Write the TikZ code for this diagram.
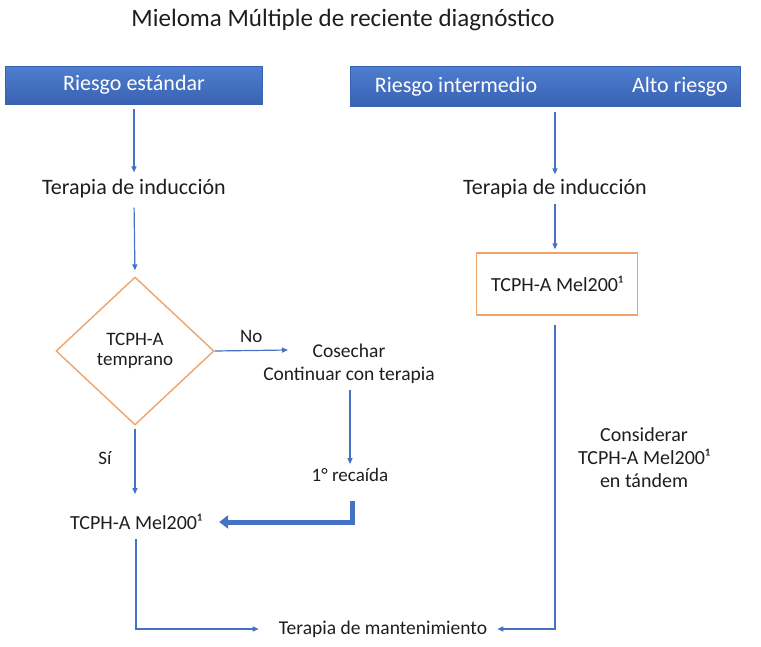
\documentclass[tikz,border=0pt]{standalone}
\usepackage{fontspec}
\setmainfont{Carlito}
\usetikzlibrary{arrows.meta,shapes.geometric}

\definecolor{flowblue}{RGB}{68,114,196}
\definecolor{hdrtop}{RGB}{78,126,208}
\definecolor{hdrbot}{RGB}{58,98,178}
\definecolor{flowor}{RGB}{238,164,106}
\definecolor{ink}{RGB}{30,30,30}

\newcommand{\fs}[2]{\fontsize{#1}{#2}\selectfont}

\begin{document}
\begin{tikzpicture}[x=1pt, y=-1pt,
    every node/.style={text=ink, inner sep=3pt},
    arr/.style={draw=flowblue, line width=1.2pt, -{Triangle[length=6pt,width=5pt]}},
    fatarr/.style={draw=flowblue, line width=5pt, -{Triangle[length=9pt,width=13pt]}},
    header/.style={rectangle, top color=hdrtop, bottom color=hdrbot, draw=hdrbot, text=white, inner sep=0pt},
    decbox/.style={draw=flowor, line width=1.4pt, fill=white}]
  \useasboundingbox (0,0) rectangle (761,646);

  \node[font=\fs{25}{30}] (title) at (343,20) {Mieloma Múltiple de reciente diagnóstico};

  % headers
  \node[header, font=\fs{22}{26}, minimum width=257pt, minimum height=38pt] (hdrL) at (134,85) {Riesgo estándar};
  \node[header, minimum width=390pt, minimum height=40pt] (hdrR) at (545,86) {};
  \node[text=white, font=\fs{22}{26}] (intR) at (456,87) {Riesgo intermedio};
  \node[text=white, font=\fs{22}{26}] (altoR) at (680,87) {Alto riesgo};

  % left column
  \node[font=\fs{22}{26}] (indL) at (134,189) {Terapia de inducción};
  \node[diamond, decbox, font=\fs{19}{20}, minimum width=158pt, minimum height=148pt, inner sep=0pt, align=center] (dec) at (135,351)
    {TCPH-A\\temprano};
  \node[font=\fs{19.5}{23}, align=center] (cos) at (349,364) {Cosechar\\Continuar con terapia};
  \node[font=\fs{19}{23}] (rec) at (350,475) {1° recaída};
  \node[font=\fs{20}{24}] (melL) at (136,522) {TCPH-A Mel200¹};
  \node[font=\fs{19}{23}] (si) at (105,458) {Sí};
  \coordinate (noend) at (288,350);

  % right column
  \node[font=\fs{22}{26}] (indR) at (555,189) {Terapia de inducción};
  \node[rectangle, decbox, font=\fs{20}{24}, minimum width=161pt, minimum height=62pt] (boxR) at (557,284) {TCPH-A Mel200¹};
  \node[font=\fs{20}{23}, align=center] (cons) at (644,458)
    {Considerar\\TCPH-A Mel200¹\\en tándem};

  \node[font=\fs{19.5}{23}] (mant) at (383,629) {Terapia de mantenimiento};

  % connectors
  \draw[arr, shorten <=5pt, shorten >=4pt] (hdrL.south -| indL.north) -- (indL.north);
  \draw[arr, shorten <=6pt, shorten >=6pt] (indL.south) -- (dec.north);
  \draw[arr] (dec.east) -- node[above=4pt, font=\fs{19}{23}] {No} (noend);
  \draw[arr, shorten <=3pt, shorten >=1pt] (cos.south -| rec.north) -- (rec.north);
  \draw[arr, shorten <=3pt, shorten >=17pt] (dec.south) -- (dec.south |- melL.north);
  \draw[fatarr, shorten <=16pt, shorten >=14pt] ([xshift=2pt]rec.south) |- (melL.east);
  \draw[arr, shorten <=6pt, shorten >=17pt] (melL.south) |- (mant.west);

  \draw[arr, shorten <=6pt, shorten >=2pt] (indR.north |- hdrR.south) -- (indR.north);
  \draw[arr, shorten <=2pt, shorten >=3pt] (indR.south) -- (indR.south |- boxR.north);
  \draw[arr, shorten <=9pt, shorten >=7pt] (boxR.south -| indR.south) |- (mant.east);
\end{tikzpicture}
\end{document}
